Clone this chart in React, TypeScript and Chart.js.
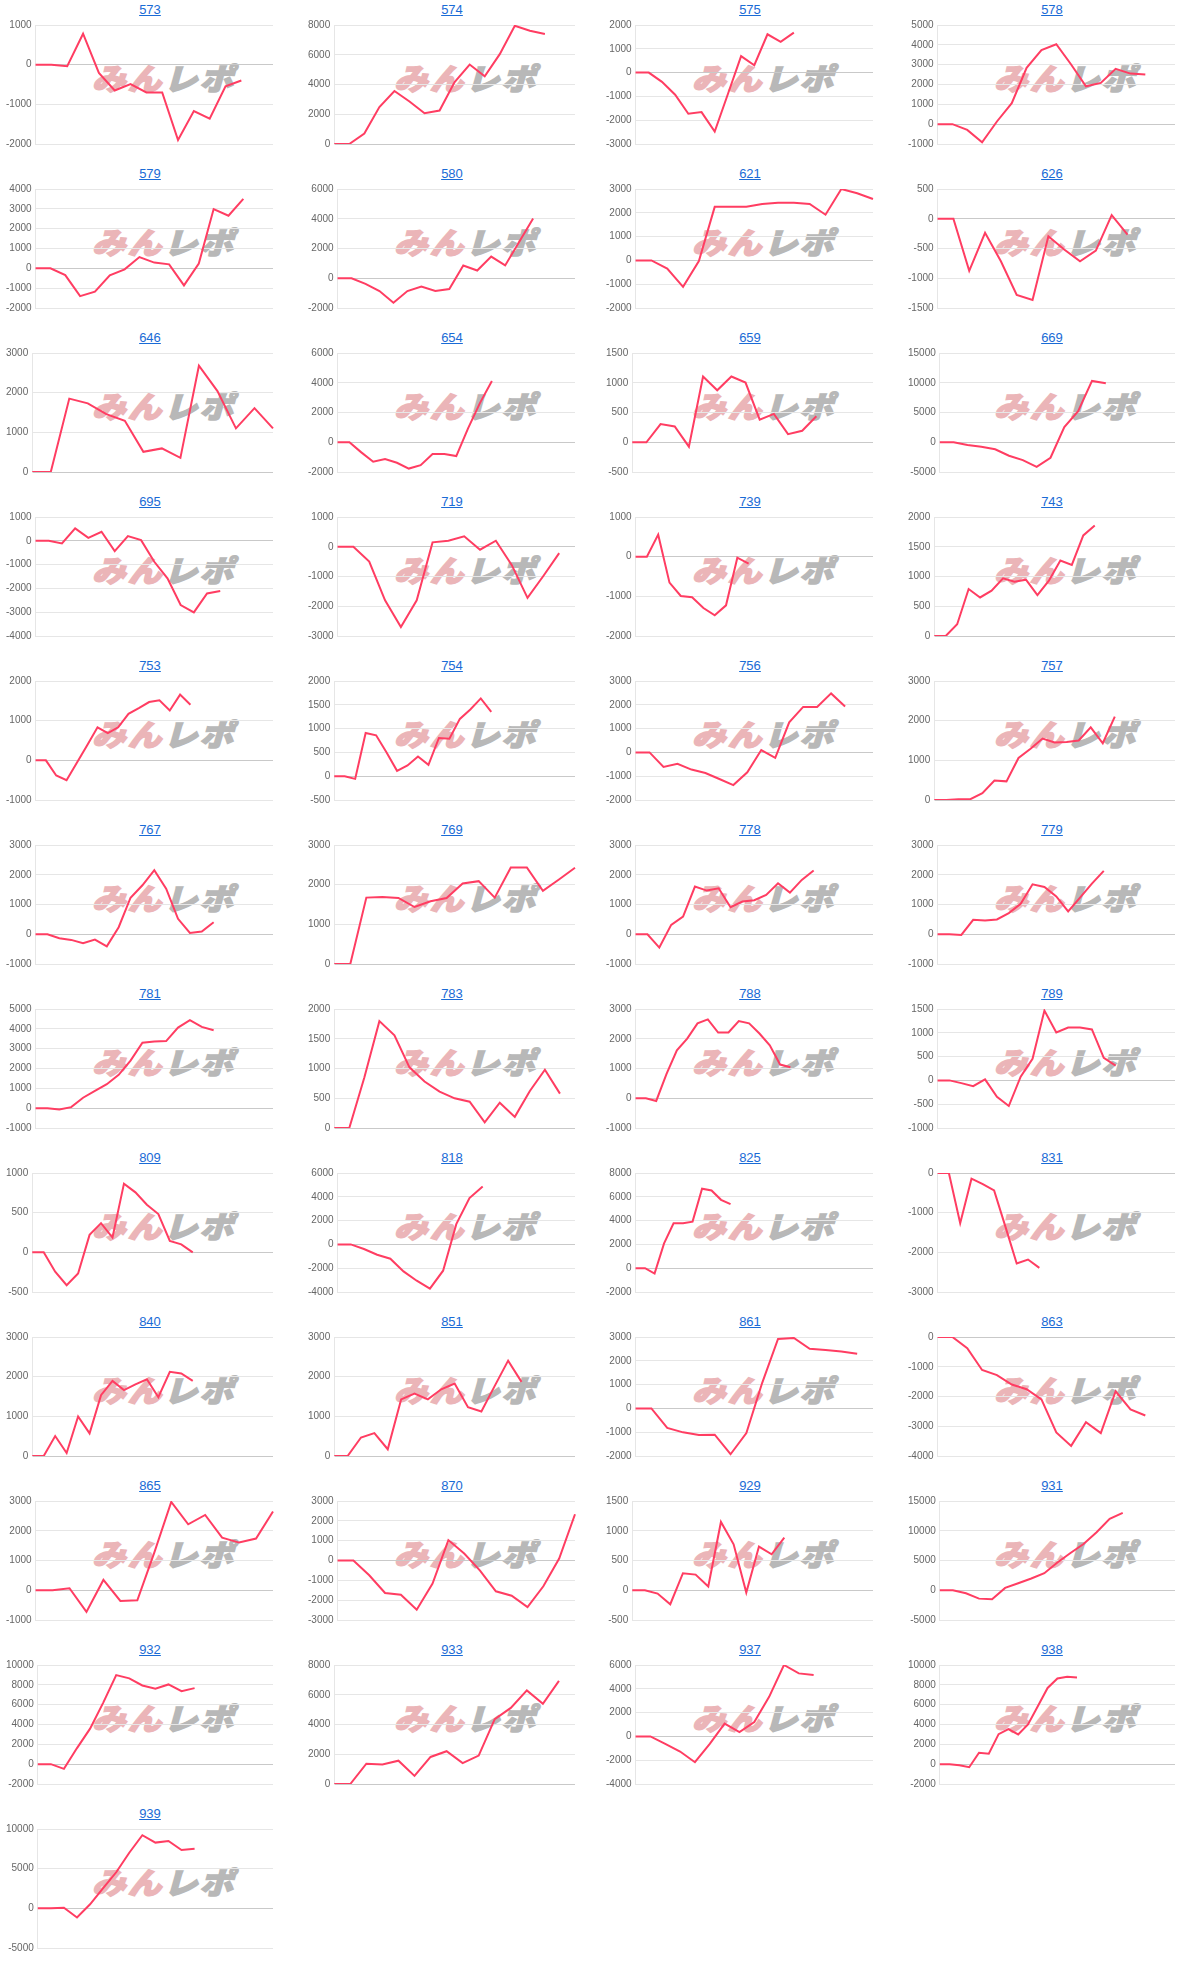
import React, { useEffect, useRef } from "react";
import { Chart, registerables } from "chart.js";

Chart.register(...registerables);

// ---- data ----
const chartIds = [
  "573", "574", "575", "578",
  "579", "580", "621", "626",
  "646", "654", "659", "669",
  "695", "719", "739", "743",
  "753", "754", "756", "757",
  "767", "769", "778", "779",
  "781", "783", "788", "789",
  "809", "818", "825", "831",
  "840", "851", "861", "863",
  "865", "870", "929", "931",
  "932", "933", "937", "938",
  "939",
];

// number of x-axis labels (dates) per chart
const labelCounts = [
  16, 17, 19, 17,
  17, 18, 16, 16,
  14, 21, 18, 18,
  19, 16, 22, 22,
  24, 24, 18, 21,
  21, 16, 21, 21,
  21, 17, 24, 21,
  22, 19, 26, 22,
  22, 19, 16, 17,
  15, 16, 20, 19,
  19, 16, 17, 25,
  19,
];

const yMins = [
  -2000, 0, -3000, -1000,
  -2000, -2000, -2000, -1500,
  0, -2000, -500, -5000,
  -4000, -3000, -2000, 0,
  -1000, -500, -2000, 0,
  -1000, 0, -1000, -1000,
  -1000, 0, -1000, -1000,
  -500, -4000, -2000, -3000,
  0, 0, -2000, -4000,
  -1000, -3000, -500, -5000,
  -2000, 0, -4000, -2000,
  -5000,
];

const yMaxs = [
  1000, 8000, 2000, 5000,
  4000, 6000, 3000, 500,
  3000, 6000, 1500, 15000,
  1000, 1000, 1000, 2000,
  2000, 2000, 3000, 3000,
  3000, 3000, 3000, 3000,
  5000, 2000, 3000, 1500,
  1000, 6000, 8000, 0,
  3000, 3000, 3000, 0,
  3000, 3000, 1500, 15000,
  10000, 8000, 6000, 10000,
  10000,
];

const ySteps = [
  1000, 2000, 1000, 1000,
  1000, 2000, 1000, 500,
  1000, 2000, 500, 5000,
  1000, 1000, 1000, 500,
  1000, 500, 1000, 1000,
  1000, 1000, 1000, 1000,
  1000, 500, 1000, 500,
  500, 2000, 2000, 1000,
  1000, 1000, 1000, 1000,
  1000, 1000, 500, 5000,
  2000, 2000, 2000, 2000,
  5000,
];

const v573 = [0, 0, -40, 780, -210, -650, -490, -700, -700, -1900, -1170, -1360, -545, -400];
const v574 = [0, 0, 700, 2480, 3560, 2860, 2070, 2250, 4170, 5340, 4550, 6040, 7950, 7610, 7390];
const v575 = [0, 0, -390, -930, -1730, -1660, -2480, -900, 690, 310, 1610, 1290, 1680];
const v578 = [0, 0, -290, -910, 135, 1060, 2840, 3740, 4030, 3010, 1910, 2080, 2790, 2550, 2500];
const v579 = [0, 0, -340, -1400, -1180, -350, -50, 570, 290, 200, -860, 240, 2990, 2650, 3500];
const v580 = [0, 0, -380, -860, -1650, -860, -560, -860, -720, 860, 520, 1460, 860, 2430, 4010];
const v621 = [0, 0, -340, -1110, -30, 2250, 2250, 2250, 2370, 2420, 2420, 2370, 1920, 3000, 2820, 2580];
const v626 = [0, 0, -875, -237, -715, -1280, -1365, -293, -518, -715, -535, 62, -265];
const v646 = [0, 0, 1850, 1730, 1460, 1290, 510, 595, 357, 2680, 2040, 1100, 1610, 1100];
const v654 = [0, 0, -680, -1310, -1130, -1380, -1770, -1540, -790, -790, -930, 950, 2650, 4120];
const v659 = [0, 0, 306, 266, -74, 1105, 873, 1105, 1003, 380, 476, 136, 193, 436];
const v669 = [0, 0, -450, -740, -1190, -2270, -3000, -4140, -2600, 2550, 5210, 10310, 9920];
const v695 = [0, 0, -110, 520, 126, 380, -434, 196, 28, -882, -1580, -2700, -3010, -2210, -2110];
const v719 = [0, 0, -497, -1800, -2700, -1800, 147, 203, 350, -100, 203, -610, -1718, -983, -215];
const v739 = [0, 0, 555, -655, -992, -1025, -1294, -1479, -1227, -25, -176];
const v743 = [0, 0, 197, 789, 648, 761, 969, 913, 947, 687, 930, 1268, 1194, 1690, 1859];
const v753 = [0, 0, -382, -501, -59, 382, 833, 688, 833, 1172, 1317, 1470, 1512, 1257, 1656, 1402];
const v754 = [0, 0, -56, 908, 859, 500, 113, 225, 415, 239, 803, 789, 1204, 1401, 1634, 1352];
const v756 = [0, 0, -609, -482, -722, -864, -1119, -1374, -836, 99, -227, 1261, 1912, 1912, 2479, 1926];
const v757 = [0, 0, 20, 20, 170, 490, 470, 1060, 1290, 1550, 1450, 1460, 1500, 1830, 1430, 2100];
const v767 = [0, 0, -135, -190, -304, -180, -405, 237, 1228, 1645, 2152, 1532, 518, 45, 90, 406];
const v769 = [0, 0, 1674, 1690, 1665, 1437, 1580, 1665, 2029, 2088, 1674, 2434, 2434, 1842, 2130, 2426];
const v778 = [0, 0, -448, 314, 594, 1602, 1468, 1546, 908, 1098, 1143, 1322, 1714, 1400, 1826, 2140];
const v779 = [0, 0, -23, 485, 462, 496, 710, 1025, 1679, 1589, 1273, 766, 1228, 1701, 2130];
const v781 = [0, 0, -68, 51, 527, 867, 1207, 1683, 2397, 3298, 3366, 3383, 4063, 4437, 4097, 3927];
const v783 = [0, 0, 850, 1796, 1558, 1020, 782, 612, 499, 442, 96, 425, 187, 623, 980, 578];
const v788 = [0, 0, -91, 816, 1609, 2006, 2516, 2652, 2210, 2210, 2595, 2516, 2176, 1779, 1133, 1042];
const v789 = [0, 0, -57, -120, 21, -347, -538, 78, 453, 1466, 1006, 1112, 1112, 1070, 475, 312];
const v809 = [0, 0, -245, -414, -266, 220, 368, 186, 866, 756, 600, 482, 144, 101, 0];
const v818 = [0, 0, -390, -870, -1200, -2270, -3050, -3720, -2210, 1700, 3890, 4870];
const v825 = [0, 0, -450, 2085, 3775, 3775, 3915, 6676, 6535, 5746, 5380];
const v831 = [0, 0, -1268, -144, -279, -440, -1353, -2283, -2181, -2393];
const v840 = [0, 0, 503, 77, 997, 571, 1535, 1893, 1662, 1807, 1935, 1483, 2123, 2080, 1893];
const v851 = [0, 0, 467, 578, 170, 1427, 1572, 1427, 1682, 1827, 1232, 1121, 1767, 2404, 1869];
const v861 = [0, 0, -822, -1006, -1119, -1105, -1926, -1034, 1076, 2918, 2960, 2507, 2450, 2394, 2295];
const v863 = [0, 0, -374, -1110, -1280, -1598, -1756, -2096, -3207, -3660, -2867, -3229, -1824, -2436, -2640];
const v865 = [0, 0, 67, -728, 347, -358, -336, 1266, 2969, 2218, 2532, 1770, 1602, 1737, 2644];
const v870 = [0, 0, -743, -1639, -1723, -2483, -1166, 1030, 355, -507, -1554, -1774, -2348, -1301, 101, 2331];
const v929 = [0, 0, -56, -235, 286, 263, 62, 1148, 773, -39, 734, 605, 885];
const v931 = [0, 0, -507, -1408, -1521, 394, 1183, 1972, 2873, 4676, 6254, 7775, 9746, 12000, 13014];
const v932 = [0, 0, -473, 1622, 3581, 6182, 8986, 8649, 7939, 7601, 8041, 7365, 7669];
const v933 = [0, 0, 1364, 1318, 1568, 545, 1818, 2205, 1409, 1909, 4364, 5114, 6295, 5386, 6932];
const v937 = [0, 0, -620, -1268, -2169, -620, 1070, 366, 1211, 3324, 6000, 5296, 5155];
const v938 = [0, 0, -102, -306, 1156, 1054, 3026, 3536, 2992, 4011, 5847, 7683, 8635, 8805, 8737];
const v939 = [0, 0, 85, -1147, 510, 2549, 4545, 7009, 9218, 8284, 8496, 7349, 7519];

const seriesValues = [
  v573, v574, v575, v578,
  v579, v580, v621, v626,
  v646, v654, v659, v669,
  v695, v719, v739, v743,
  v753, v754, v756, v757,
  v767, v769, v778, v779,
  v781, v783, v788, v789,
  v809, v818, v825, v831,
  v840, v851, v861, v863,
  v865, v870, v929, v931,
  v932, v933, v937, v938,
  v939,
];

// ---- styling ----
const LINE_COLOR = "rgb(255, 61, 98)";
const GRID_COLOR = "#e6e6e6";
const ZERO_COLOR = "#c9c9c9";
const TICK_COLOR = "#666666";
const LINK_COLOR = "#1a6bd6";
const COL_LEFT = [0, 302, 600, 902];
const ROW_H = 164;

function MiniChart({ idx }: { idx: number }) {
  const ref = useRef<HTMLCanvasElement | null>(null);

  useEffect(() => {
    if (!ref.current) return;
    const labels = Array.from({ length: labelCounts[idx] }, (_, i) => String(i + 1));
    const chart = new Chart(ref.current, {
      type: "line",
      data: {
        labels,
        datasets: [
          {
            data: seriesValues[idx],
            borderColor: LINE_COLOR,
            backgroundColor: LINE_COLOR,
            borderWidth: 2,
            pointRadius: 0,
            pointHoverRadius: 0,
            tension: 0,
            fill: false,
          },
        ],
      },
      options: {
        animation: false,
        responsive: false,
        maintainAspectRatio: false,
        events: [],
        layout: { padding: { left: 2, right: 7, top: 0, bottom: 0 } },
        plugins: {
          legend: { display: false },
          tooltip: { enabled: false },
          title: { display: false },
        },
        scales: {
          x: { display: false },
          y: {
            min: yMins[idx],
            max: yMaxs[idx],
            ticks: {
              stepSize: ySteps[idx],
              color: TICK_COLOR,
              padding: 4,
              font: { size: 10, family: "'Liberation Sans', Arial, sans-serif" },
              callback: (v: any) => String(v),
            },
            grid: {
              drawTicks: false,
              color: (ctx: any) =>
                ctx.tick && ctx.tick.value === 0 ? ZERO_COLOR : GRID_COLOR,
            },
            border: { color: GRID_COLOR },
          },
        },
      },
    });
    return () => chart.destroy();
  }, [idx]);

  const col = idx % 4;
  const row = Math.floor(idx / 4);
  const left = COL_LEFT[col];
  const top = row * ROW_H;

  return (
    <div style={{ position: "absolute", left, top, width: 298, height: ROW_H }}>
      <div
        style={{
          position: "absolute",
          left: 0,
          top: 2,
          width: 300,
          textAlign: "center",
          fontFamily: "'Liberation Sans', Arial, sans-serif",
          fontSize: 13,
          lineHeight: "16px",
        }}
      >
        <a href="#" style={{ color: LINK_COLOR, textDecoration: "underline" }}>
          {chartIds[idx]}
        </a>
      </div>
      <div
        style={{
          position: "absolute",
          left: 92,
          top: 61,
          fontFamily: "'Noto Sans CJK JP', sans-serif",
          fontWeight: 900,
          fontStyle: "italic",
          fontSize: 30,
          lineHeight: "32px",
          letterSpacing: 2,
          whiteSpace: "nowrap",
          transform: "scaleX(1.12)",
          transformOrigin: "left top",
        }}
      >
        <span style={{ color: "#ebb5b8", WebkitTextStroke: "1.5px #ebb5b8" }}>みん</span>
        <span style={{ color: "#b8b8b8", WebkitTextStroke: "1.5px #b8b8b8" }}>レポ</span>
      </div>
      <canvas
        ref={ref}
        width={280}
        height={139}
        style={{ position: "absolute", left: 0, top: 15, width: 280, height: 139 }}
      />
    </div>
  );
}

export default function App() {
  return (
    <div
      style={{
        position: "absolute",
        left: 0,
        top: 0,
        width: 1200,
        height: 1968,
        overflow: "hidden",
        background: "#ffffff",
      }}
    >
      {chartIds.map((id, i) => (
        <MiniChart key={id} idx={i} />
      ))}
    </div>
  );
}
